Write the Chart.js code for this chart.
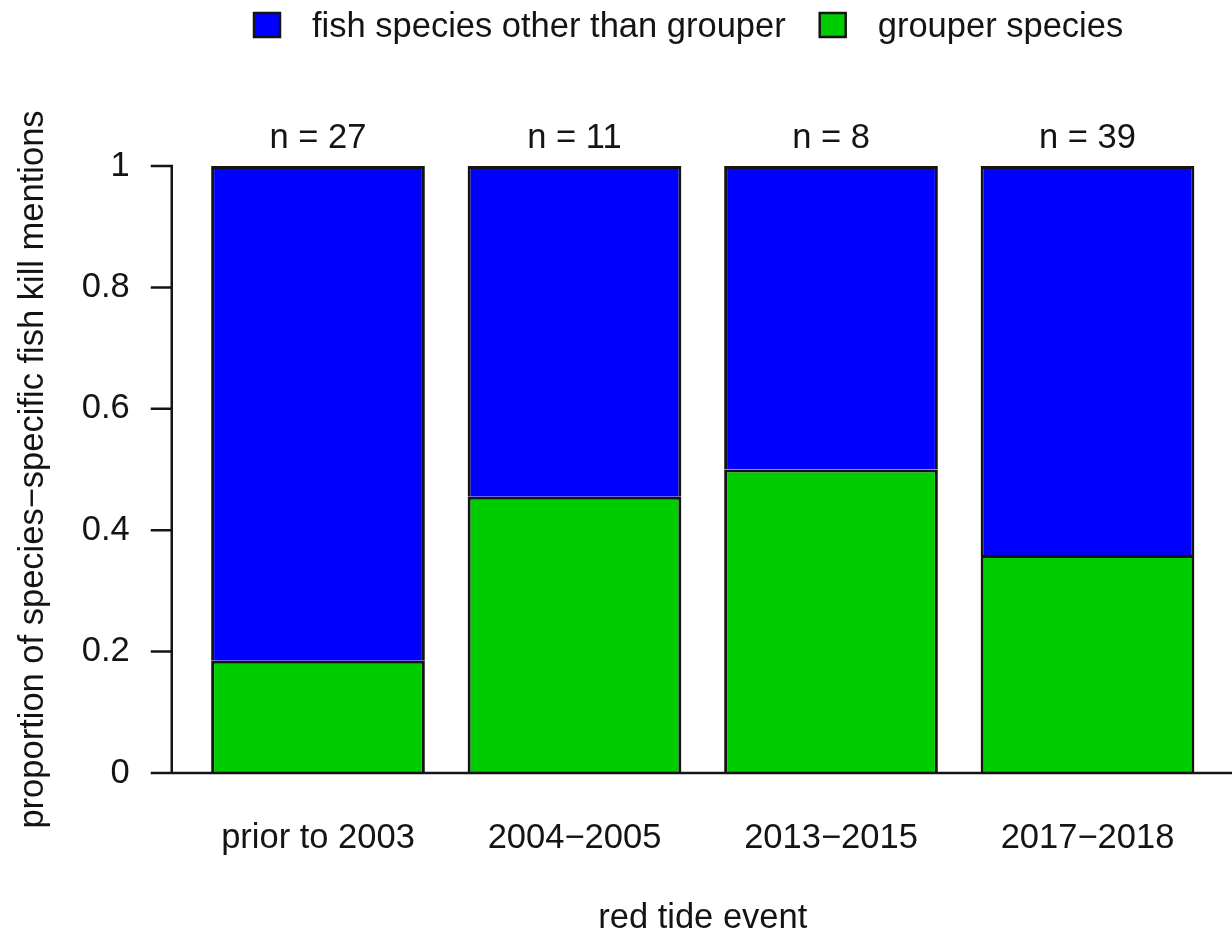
<!DOCTYPE html>
<html>
<head>
<meta charset="utf-8">
<script src="https://cdn.jsdelivr.net/npm/chart.js@4/dist/chart.umd.min.js"></script>
<style>
  html, body { margin: 0; padding: 0; background: #ffffff; overflow: hidden; }
  canvas { display: block; }
</style>
</head>
<body>
<canvas id="chart" width="1232" height="939"></canvas>
<script>
// Red tide events and the share of species-specific fish kill mentions
const categories = ['prior to 2003', '2004\u22122005', '2013\u22122015', '2017\u22122018'];
const grouperShare = [0.185, 0.455, 0.500, 0.359];
const otherShare = [0.815, 0.545, 0.500, 0.641];
const mentionCounts = [27, 11, 8, 39];
const yTicks = [0, 0.2, 0.4, 0.6, 0.8, 1];
const yTickLabels = ['0', '0.2', '0.4', '0.6', '0.8', '1'];

const FONT = '"Liberation Sans", Arial, Helvetica, sans-serif';
const FONT_SIZE = 34.5;
const INK = '#141414';

// R-style axes: y axis line with outward ticks, baseline along y = 0
const baseAxes = {
  id: 'baseAxes',
  afterDatasetsDraw(chart) {
    const { ctx, chartArea, scales: { y } } = chart;
    const axisX = chartArea.left - 18;
    const tickX = axisX - 21;
    ctx.save();
    ctx.strokeStyle = INK;
    ctx.lineWidth = 2.5;
    ctx.lineCap = 'butt';
    ctx.beginPath();
    ctx.moveTo(axisX, y.getPixelForValue(yTicks[yTicks.length - 1]) - 1.25);
    ctx.lineTo(axisX, y.getPixelForValue(yTicks[0]) + 1.25);
    yTicks.forEach(v => {
      const py = y.getPixelForValue(v);
      ctx.moveTo(tickX, py);
      ctx.lineTo(axisX, py);
    });
    const y0 = y.getPixelForValue(0);
    ctx.moveTo(tickX, y0);
    ctx.lineTo(chart.width, y0);
    ctx.stroke();
    ctx.restore();
  }
};

// sample size above each bar
const countLabels = {
  id: 'countLabels',
  afterDraw(chart) {
    const { ctx, chartArea, scales: { x } } = chart;
    ctx.save();
    ctx.fillStyle = INK;
    ctx.font = FONT_SIZE + 'px ' + FONT;
    ctx.textAlign = 'center';
    ctx.textBaseline = 'alphabetic';
    mentionCounts.forEach((n, i) => {
      ctx.fillText('n = ' + n, x.getPixelForValue(i), chartArea.top - 18);
    });
    ctx.restore();
  }
};

// horizontal legend across the top, upper series first
const topLegend = {
  id: 'topLegend',
  afterDraw(chart) {
    const { ctx } = chart;
    const items = chart.data.datasets.slice().reverse();
    ctx.save();
    ctx.font = FONT_SIZE + 'px ' + FONT;
    ctx.textBaseline = 'alphabetic';
    let x = 254;
    items.forEach(ds => {
      ctx.fillStyle = ds.backgroundColor;
      ctx.fillRect(x, 13, 26, 24);
      ctx.strokeStyle = INK;
      ctx.lineWidth = 2.5;
      ctx.strokeRect(x, 13, 26, 24);
      x += 26 + 32;
      ctx.fillStyle = INK;
      ctx.fillText(ds.label, x, 36.5);
      x += ctx.measureText(ds.label).width + 34;
    });
    ctx.restore();
  }
};

new Chart(document.getElementById('chart'), {
  type: 'bar',
  data: {
    labels: categories,
    datasets: [
      {
        label: 'grouper species',
        data: grouperShare,
        backgroundColor: '#00CD00',
        borderColor: INK,
        borderWidth: 3,
        borderSkipped: 'start'
      },
      {
        label: 'fish species other than grouper',
        data: otherShare,
        backgroundColor: '#0000FF',
        borderColor: INK,
        borderWidth: 3,
        borderSkipped: 'start'
      }
    ]
  },
  options: {
    responsive: false,
    animation: false,
    events: [],
    layout: { padding: { top: 166, left: 0, right: 16.25, bottom: 0 } },
    datasets: { bar: { categoryPercentage: 1, barPercentage: 0.8333 } },
    plugins: {
      legend: { display: false },
      tooltip: { enabled: false },
      title: { display: false }
    },
    scales: {
      x: {
        stacked: true,
        offset: true,
        grid: { display: false, drawTicks: false },
        border: { display: false },
        ticks: { color: INK, font: { family: FONT, size: FONT_SIZE }, padding: 45, maxRotation: 0, autoSkip: false },
        title: { display: true, text: 'red tide event', color: INK, font: { family: FONT, size: FONT_SIZE }, padding: { top: 0, bottom: 0 } },
        afterFit(scale) { scale.height = 166; }
      },
      y: {
        stacked: true,
        min: 0,
        max: 1,
        grid: { display: false, drawTicks: false },
        border: { display: false },
        afterBuildTicks(scale) { scale.ticks = yTicks.map(v => ({ value: v })); },
        ticks: {
          color: INK,
          font: { family: FONT, size: FONT_SIZE },
          padding: 60,
          callback: (value, index) => yTickLabels[index]
        },
        title: { display: true, text: 'proportion of species\u2212specific fish kill mentions', color: INK, font: { family: FONT, size: FONT_SIZE }, padding: { top: 13, bottom: 0 } },
        afterFit(scale) { scale.width = 189.75; }
      }
    }
  },
  plugins: [baseAxes, countLabels, topLegend]
});
</script>
</body>
</html>
